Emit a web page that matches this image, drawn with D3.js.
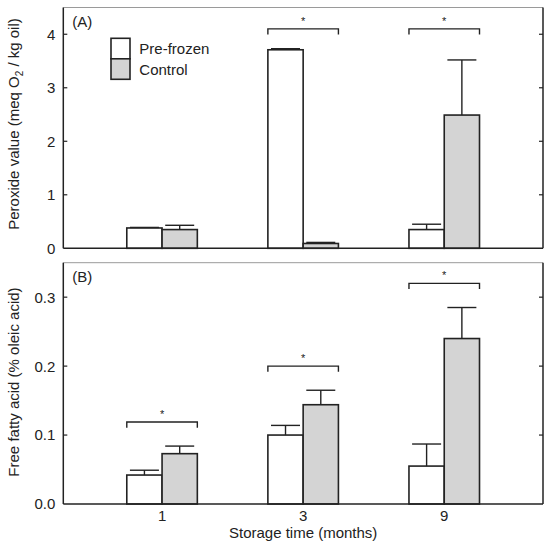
<!DOCTYPE html>
<html>
<head>
<meta charset="utf-8">
<script src="https://cdn.jsdelivr.net/npm/d3@7"></script>
<style>
  body { margin: 0; background: #fff; }
  svg { display: block; font-family: "Liberation Sans", Arial, sans-serif; }
  .bar { stroke: #222; stroke-width: 1.6; }
  .err, .bracket { stroke: #222; stroke-width: 1.4; fill: none; }
  .frame { stroke: #222; stroke-width: 1.5; }
  .frame-top { stroke: #9a9a9a; stroke-width: 1; }
  .tick { stroke: #222; stroke-width: 1.2; }
  text { fill: #222; font-size: 15px; }
</style>
</head>
<body>
<div id="chart"></div>
<script>
const months = ["1", "3", "9"];
const series = ["Pre-frozen", "Control"];
const seriesFill = ["#ffffff", "#d4d4d4"];

// (A) peroxide value
const pvPreFrozen = [0.38, 3.71, 0.35];
const pvPreFrozenErr = [0.01, 0.02, 0.10];
const pvControl = [0.35, 0.09, 2.49];
const pvControlErr = [0.08, 0.02, 1.03];
const pvBracket = [null, 4.10, 4.10];
const pvTicks = [0, 1, 2, 3, 4];

// (B) free fatty acid
const ffaPreFrozen = [0.042, 0.100, 0.055];
const ffaPreFrozenErr = [0.007, 0.014, 0.032];
const ffaControl = [0.073, 0.144, 0.240];
const ffaControlErr = [0.011, 0.021, 0.045];
const ffaBracket = [0.119, 0.200, 0.320];
const ffaTicks = [0, 0.1, 0.2, 0.3];

const width = 550;
const height = 548;
const left = 63.3;
const right = 543;

const svg = d3
  .select("#chart")
  .append("svg")
  .attr("width", width)
  .attr("height", height);

const x = d3.scalePoint().domain(months).range([left, right]).padding(0.7);
const barWidth = x.step() * 0.25;
const capWidth = 29;
const legLength = 5.7;

function panel(cfg) {
  const y = d3.scaleLinear().domain(cfg.domain).range([cfg.bottom, cfg.top]);
  const g = svg.append("g").attr("class", "panel");

  const rows = [];
  months.forEach((m, i) => {
    cfg.means.forEach((vals, s) => {
      rows.push({
        month: m,
        s,
        value: vals[i],
        err: cfg.errs[s][i],
        x0: x(m) + (s - 1) * barWidth,
      });
    });
  });

  // bars
  g.selectAll(".bar")
    .data(rows)
    .join("rect")
    .attr("class", "bar")
    .attr("x", (d) => d.x0)
    .attr("width", barWidth)
    .attr("y", (d) => y(d.value))
    .attr("height", (d) => y(0) - y(d.value))
    .attr("fill", (d) => seriesFill[d.s]);

  // error bars
  const err = g.selectAll(".err-g").data(rows).join("g").attr("class", "err-g");
  err.append("line")
    .attr("class", "err")
    .attr("x1", (d) => d.x0 + barWidth / 2)
    .attr("x2", (d) => d.x0 + barWidth / 2)
    .attr("y1", (d) => y(d.value))
    .attr("y2", (d) => y(d.value + d.err));
  err.append("line")
    .attr("class", "err")
    .attr("x1", (d) => d.x0 + barWidth / 2 - capWidth / 2)
    .attr("x2", (d) => d.x0 + barWidth / 2 + capWidth / 2)
    .attr("y1", (d) => y(d.value + d.err))
    .attr("y2", (d) => y(d.value + d.err));

  // significance brackets
  const br = months
    .map((m, i) => ({ month: m, v: cfg.brackets[i] }))
    .filter((d) => d.v != null);
  g.selectAll(".bracket")
    .data(br)
    .join("path")
    .attr("class", "bracket")
    .attr("d", (d) => {
      const x0 = x(d.month) - barWidth;
      const x1 = x(d.month) + barWidth;
      const yy = y(d.v);
      return `M${x0},${yy + legLength}V${yy}H${x1}V${yy + legLength}`;
    });
  g.selectAll(".star")
    .data(br)
    .join("text")
    .attr("class", "star")
    .attr("x", (d) => x(d.month))
    .attr("y", (d) => y(d.v) - 4)
    .attr("text-anchor", "middle")
    .style("font-size", "11px")
    .text("*");

  // frame
  g.append("line").attr("class", "frame-top")
    .attr("x1", left).attr("x2", right).attr("y1", cfg.top).attr("y2", cfg.top);
  g.append("line").attr("class", "frame")
    .attr("x1", left).attr("x2", right).attr("y1", y(0)).attr("y2", y(0));
  g.append("line").attr("class", "frame")
    .attr("x1", left).attr("x2", left).attr("y1", cfg.top).attr("y2", y(0));
  g.append("line").attr("class", "frame")
    .attr("x1", right).attr("x2", right).attr("y1", cfg.top).attr("y2", y(0));

  // y axes (ticks inward on both sides)
  const ticks = cfg.ticks.filter((t) => t > 0);
  g.selectAll(".tick-l").data(ticks).join("line").attr("class", "tick")
    .attr("x1", left).attr("x2", left + 4)
    .attr("y1", (d) => y(d)).attr("y2", (d) => y(d));
  g.selectAll(".tick-r").data(ticks).join("line").attr("class", "tick")
    .attr("x1", right - 4).attr("x2", right)
    .attr("y1", (d) => y(d)).attr("y2", (d) => y(d));
  g.selectAll(".tick-label").data(cfg.ticks).join("text")
    .attr("x", left - 8)
    .attr("y", (d) => y(d))
    .attr("dy", "0.36em")
    .attr("text-anchor", "end")
    .text(cfg.format);

  // panel letter
  g.append("text")
    .attr("x", left + 9)
    .attr("y", cfg.top + 19)
    .text(cfg.letter);

  // y title
  const title = g.append("text")
    .attr("transform", `translate(19,${cfg.titleY}) rotate(-90)`)
    .attr("text-anchor", "middle");
  cfg.title(title);

  return y;
}

panel({
  domain: [0, 4.5],
  top: 7.5,
  bottom: 248.3,
  means: [pvPreFrozen, pvControl],
  errs: [pvPreFrozenErr, pvControlErr],
  brackets: pvBracket,
  ticks: pvTicks,
  format: d3.format("d"),
  letter: "(A)",
  titleY: 124,
  title: (t) => {
    t.append("tspan").text("Peroxide value (meq O");
    t.append("tspan").attr("dy", 4).style("font-size", "10px").text("2");
    t.append("tspan").attr("dy", -4).text(" / kg oil)");
  },
});

panel({
  domain: [0, 0.35],
  top: 262.7,
  bottom: 504,
  means: [ffaPreFrozen, ffaControl],
  errs: [ffaPreFrozenErr, ffaControlErr],
  brackets: ffaBracket,
  ticks: ffaTicks,
  format: d3.format(".1f"),
  letter: "(B)",
  titleY: 382,
  title: (t) => t.text("Free fatty acid (% oleic acid)"),
});

// x labels
svg.selectAll(".x-label")
  .data(months)
  .join("text")
  .attr("class", "x-label")
  .attr("x", (d) => x(d))
  .attr("y", 521)
  .attr("text-anchor", "middle")
  .text((d) => d);

svg.append("text")
  .attr("x", x("3"))
  .attr("y", 538)
  .attr("text-anchor", "middle")
  .text("Storage time (months)");

// legend
const legend = svg.append("g").attr("transform", "translate(111,38.3)");
legend.selectAll("rect")
  .data(series)
  .join("rect")
  .attr("class", "bar")
  .attr("x", 0)
  .attr("y", (d, i) => i * 20.5)
  .attr("width", 19)
  .attr("height", 20.5)
  .attr("fill", (d, i) => seriesFill[i]);
legend.selectAll("text")
  .data(series)
  .join("text")
  .attr("x", 28.3)
  .attr("y", (d, i) => i * 21.5 + 10)
  .attr("dy", "0.36em")
  .text((d) => d);
</script>
</body>
</html>
